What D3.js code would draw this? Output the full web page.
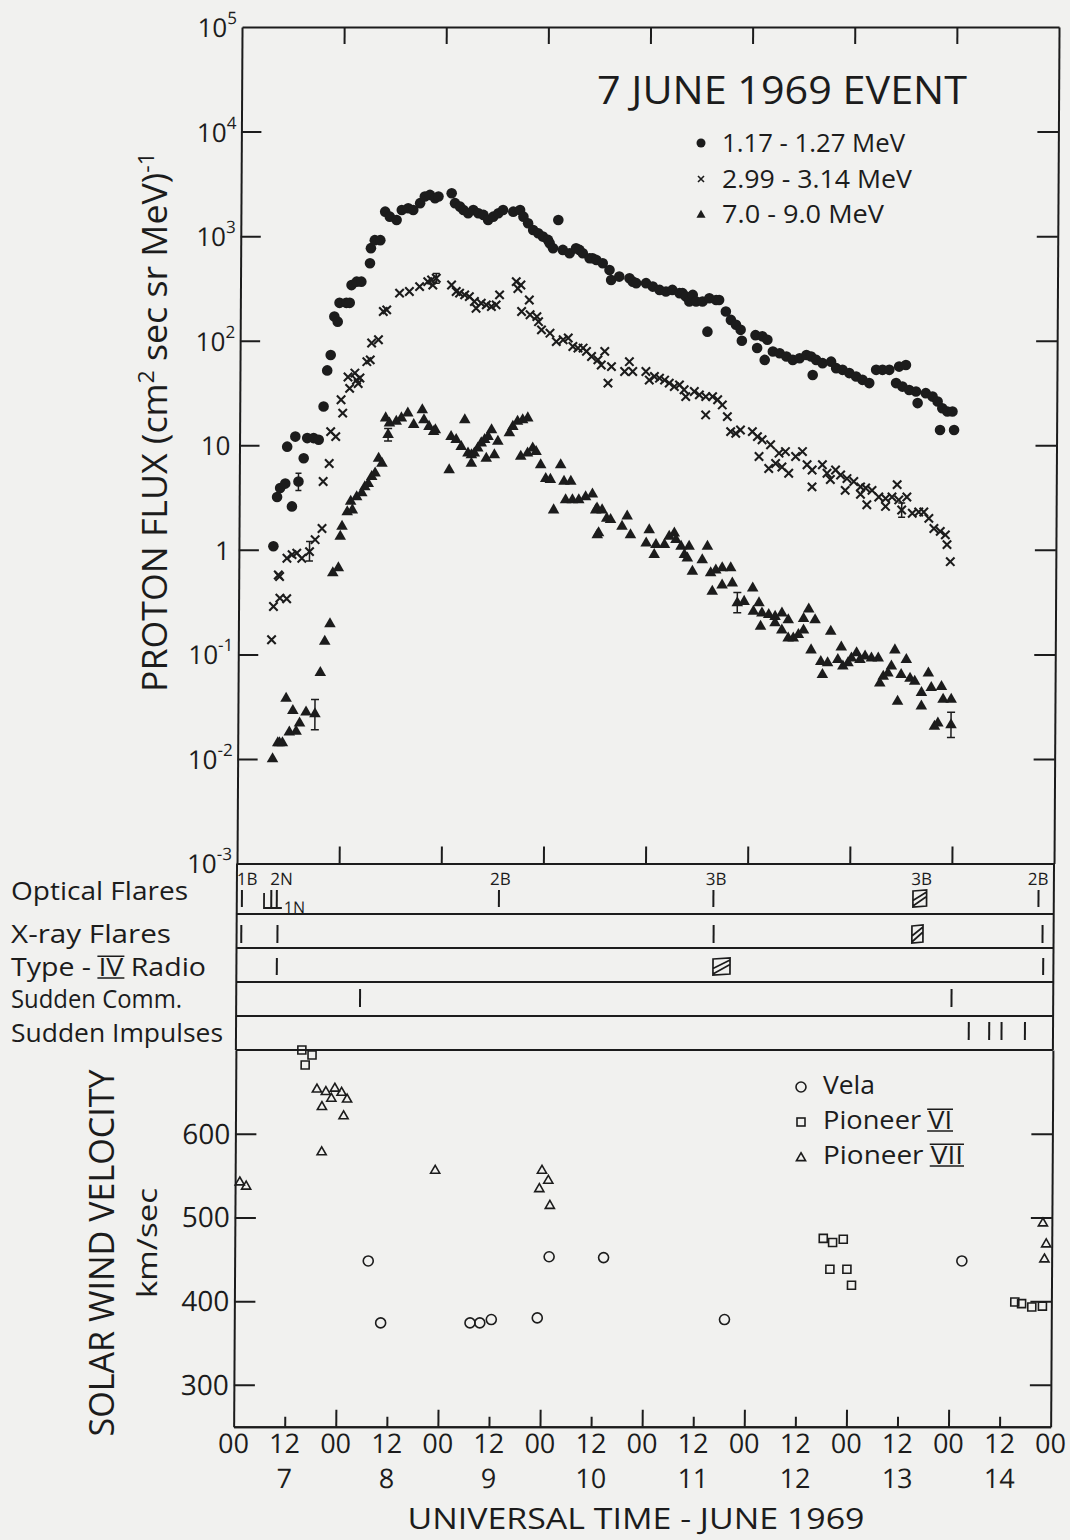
<!DOCTYPE html>
<html><head><meta charset="utf-8">
<script src="https://cdn.jsdelivr.net/npm/d3@7"></script>
<style>
html,body{margin:0;padding:0;background:#f1f1ef;}
svg{display:block;}
text{font-family:'Open Sans','DejaVu Sans',sans-serif;fill:#1c1c1c;}
</style></head><body>
<svg id="chart" width="1070" height="1540"></svg>
<script>
// ---- Proton flux, hours after 00 UT 7 June 1969 : flux (cm^2 sec sr MeV)^-1 ----
const flux117 = [[8.1,1.08],[8.9,3.2],[9.6,3.9],[10.8,4.3],[11.2,9.7],[12.4,2.6],[13.1,12.1],[13.9,4.5],[15.1,7.5],[15.9,11.7],[17.4,11.7],[18.6,11.3],[19.7,23.5],[20.5,52],[21.3,73],[22.1,170],[22.9,152],[23.3,230],[24.9,230],[25.7,230],[26.1,340],[27.3,367],[28.4,367],[30.4,550],[30.6,767],[31.5,915],[32.8,915],[33.9,1715],[35.0,1535],[36.6,1428],[37.8,1780],[39.3,1849],[40.5,1780],[42.1,2066],[43.2,2390],[44.4,2478],[45.6,2303],[46.4,2390],[49.5,2570],[50.3,2066],[51.5,1914],[52.3,1778],[53.4,1654],[54.6,1778],[55.8,1654],[57.0,1595],[58.1,1428],[59.3,1535],[60.5,1654],[61.6,1778],[64.0,1715],[65.6,1778],[66.4,1535],[67.5,1327],[68.7,1146],[69.9,1066],[71.0,990],[72.2,920],[72.6,855],[73.4,766],[74.6,1428],[75.7,738],[77.3,686],[78.8,766],[79.6,738],[80.4,686],[82.0,615],[82.7,615],[83.6,592],[85.1,551],[86.7,475],[87.1,380],[89.0,410],[91.4,396],[92.2,367],[93.0,355],[95.3,355],[96.9,329],[98.5,306],[100.0,295],[101.5,306],[103.2,285],[103.9,285],[104.7,264],[105.5,237],[106.3,274],[107.1,237],[108.6,237],[110.2,255],[111.8,245],[112.5,245],[109.8,122],[114.1,190],[115.3,158],[116.5,142],[117.6,127],[117.9,100],[121.1,113],[122.7,110],[123.9,102],[121.5,85],[123.3,65.5],[125.2,78.7],[126.8,75.9],[128.4,70.5],[129.9,65.5],[131.5,68],[133.1,73],[134.2,70.5],[135.4,65.5],[134.6,47],[136.9,61],[138.9,63],[140.1,54.6],[141.6,52.6],[143.2,49],[144.8,45.4],[146.3,42.2],[147.9,39.3],[149.5,52.6],[151.0,52.6],[152.6,52.6],[154.9,56.5],[156.5,58.6],[154.2,39.3],[155.7,36.4],[157.3,33.8],[158.9,32.7],[159.3,25.3],[161.2,31.5],[162.8,29.2],[164.0,26.2],[165.1,22.6],[166.3,21],[167.5,21],[164.6,14],[167.9,14]];

const flux299 = [[7.8,0.138],[8.2,0.287],[9.7,0.345],[11.3,0.34],[9.6,0.556],[9.3,0.575],[11.3,0.83],[12.5,0.9],[13.6,0.93],[14.8,0.83],[16.6,0.96],[17.9,1.25],[19.5,1.6],[19.7,4.5],[21.1,6.7],[21.4,13.5],[22.6,12.1],[24.2,20.3],[23.8,27.2],[25.8,35],[27.4,42],[27.8,39],[25.4,45],[27.0,49],[28.2,44],[29.8,63],[30.6,65.5],[30.9,95],[32.5,102],[33.6,190],[34.4,197],[37.4,285],[39.7,295],[42.1,329],[44.0,367],[46.0,395],[44.9,380],[45.2,340],[49.6,341],[50.7,295],[51.5,285],[52.7,274],[53.8,264],[55.0,237],[55.4,204],[56.6,228],[57.8,220],[59.0,212],[60.1,220],[60.9,274],[64.8,367],[65.9,341],[65.2,316],[67.9,245],[66.1,190],[68.1,177],[69.7,170],[70.1,152],[70.8,127],[72.8,118],[74.3,98],[75.9,102],[77.1,106],[78.2,88],[79.4,85],[80.6,85],[81.4,79],[82.6,70.5],[84.1,65.5],[84.9,58.6],[85.7,79],[87.3,56.5],[86.5,39.3],[90.4,50.7],[91.5,63],[92.3,50.7],[95.4,50.7],[96.2,42],[97.4,45.4],[98.6,43.8],[99.8,42],[100.9,39.3],[102.1,36.4],[103.3,37.8],[104.4,33.9],[104.8,29.2],[106.8,32.7],[108.0,30.3],[109.5,29.2],[111.1,29.2],[112.3,27.2],[113.4,24.3],[109.5,19.5],[114.6,18.8],[115.4,13.5],[116.6,13],[117.7,14],[120.5,13.5],[121.7,12.1],[122.8,11.3],[124.8,10.1],[126.8,8.4],[128.3,8.7],[130.7,7.8],[132.3,8.7],[133.4,6.5],[134.6,5.8],[137.0,6.5],[138.1,5.4],[140.1,5.8],[141.3,5.2],[142.8,4.8],[144.4,4.5],[146.0,4.0],[147.2,3.9],[148.7,3.7],[150.3,3.2],[151.9,3.1],[153.4,3.2],[155.0,3.0],[154.6,4.2],[156.9,3.2],[155.7,2.4],[158.2,2.24],[159.7,2.3],[160.9,2.3],[162.1,2.0],[163.3,1.6],[164.8,1.5],[166.0,1.39],[166.4,1.12],[167.2,0.77],[122.1,7.8],[124.4,6.0],[126.0,6.7],[127.5,6.2],[129.1,5.4],[134.6,4.0],[138.9,4.7],[142.4,3.7],[146.0,3.4],[147.5,2.7],[151.9,2.6]];

const flux70 = [[8.2,0.0100],[9.4,0.0142],[9.8,0.0142],[10.5,0.0142],[11.3,0.038],[12.1,0.018],[12.9,0.029],[13.7,0.0183],[14.5,0.022],[16.0,0.028],[18.1,0.027],[19.3,0.067],[20.3,0.133],[21.5,0.196],[22.1,0.6],[23.4,0.67],[23.8,1.34],[24.2,1.67],[25.4,2.3],[26.6,2.4],[26.2,2.9],[27.6,3.2],[28.8,3.5],[29.5,4.0],[30.3,4.3],[31.1,5.0],[31.9,5.4],[32.7,7.5],[33.5,6.7],[34.3,18.2],[34.9,12.6],[35.2,16.3],[36.8,16.9],[38.0,18.2],[39.5,20.3],[40.9,15.7],[42.9,21.8],[43.3,17.5],[44.5,15.1],[45.6,13.5],[46.0,14],[49.3,5.8],[49.7,12.1],[50.9,11.3],[52.1,9.7],[52.9,17.5],[53.7,8.4],[54.5,8.1],[55.2,8.4],[54.5,6.7],[56.0,9.4],[56.8,10.5],[57.6,11.3],[58.4,12.1],[59.2,14],[58.0,7.5],[59.9,8.1],[60.7,10.9],[63.4,13.1],[64.2,15.1],[65.3,16.9],[66.5,17.5],[67.7,18.2],[66.1,7.8],[67.7,8.4],[68.9,9.4],[69.7,8.7],[70.8,6.5],[72.0,4.8],[73.1,4.7],[73.9,2.4],[75.5,6.5],[76.3,4.5],[77.9,4.5],[76.7,3.0],[78.3,3.0],[79.8,3.0],[81.4,3.2],[83.0,3.4],[83.8,2.4],[84.2,1.39],[84.1,2.5],[85.3,2.4],[86.4,2.0],[87.3,1.94],[84.5,1.45],[91.2,2.1],[90.0,1.67],[92.0,1.39],[96.4,1.55],[95.7,1.16],[98.0,1.12],[97.6,0.9],[100.0,1.12],[101.1,1.34],[102.3,1.44],[102.7,1.25],[103.9,1.08],[104.7,0.9],[105.8,1.08],[105.4,0.83],[106.6,0.62],[108.9,0.8],[110.1,1.08],[110.9,0.6],[112.1,0.64],[113.6,0.67],[115.6,0.67],[111.3,0.40],[113.6,0.46],[116.0,0.48],[117.2,0.31],[118.8,0.32],[120.8,0.43],[122.3,0.31],[121.0,0.257],[123.0,0.248],[124.6,0.24],[126.1,0.23],[127.7,0.248],[122.7,0.185],[126.1,0.2],[127.7,0.17],[129.2,0.143],[130.4,0.143],[131.6,0.154],[132.8,0.17],[129.2,0.214],[132.8,0.22],[134.0,0.27],[135.5,0.214],[134.6,0.11],[136.9,0.085],[138.5,0.083],[137.3,0.064],[139.2,0.166],[140.9,0.089],[142.1,0.077],[141.7,0.117],[143.3,0.083],[144.1,0.092],[145.3,0.103],[146.1,0.089],[147.3,0.096],[148.8,0.092],[150.4,0.092],[150.8,0.053],[151.6,0.0615],[152.7,0.066],[153.5,0.077],[154.3,0.11],[155.8,0.064],[157.0,0.089],[155.0,0.0355],[157.9,0.059],[159.0,0.055],[160.6,0.043],[160.6,0.032],[162.2,0.066],[162.9,0.048],[165.3,0.049],[165.7,0.037],[167.6,0.037],[163.7,0.0205],[164.5,0.022],[167.6,0.0212]];

// representative error bars: [hour, low, high]
const err117 = [[13.9,3.7,5.4]];
const err299 = [[16.6,0.78,1.2],[46.0,355,440],[155.7,2.05,2.8]];
const err70  = [[18.1,0.019,0.037],[34.9,11,14.5],[117.2,0.25,0.39],[167.6,0.016,0.028]];

const fluxTicks = [1e-3,1e-2,1e-1,1,10,1e2,1e3,1e4,1e5];

// ---- Solar / geophysical events (hours after 00 UT 7 June) ----
const opticalFlareHours = [1.2, 8.1, 9.4, 61.6, 112.0, 188.4];
const opticalFlareLabels = [[2.4,"1B"],[10.5,"2N"],[61.9,"2B"],[112.6,"3B"],[160.9,"3B"],[188.3,"2B"]];
const opticalFlareSpans = [[158.9,162.1]];
const minorFlare1N = [6.4, 10.6];
const xrayFlareHours = [1.1, 9.6, 112.1, 189.4];
const xrayFlareSpans = [[158.7,161.3]];
const typeIVHours = [9.5, 189.6];
const typeIVSpans = [[112.0,116.0]];
const suddenCommHours = [29.1, 168.1];
const suddenImpulseHours = [172.2, 177.0, 179.9, 185.4];
const eventRows = ["Optical Flares","X-ray Flares","Type - IV Radio","Sudden Comm.","Sudden Impulses"];

// ---- Solar wind velocity (km/sec) ----
const vela = [[31.4,448],[34.4,374],[55.4,374],[57.7,374],[60.4,378],[71.2,380],[73.9,453],[86.7,452],[115.2,378],[170.9,448]];
const pioneer6 = [[15.5,700],[17.9,694],[16.3,682],[138.3,475],[140.5,470],[143.0,474],[139.9,438],[143.9,438],[145.0,419],[183.4,399],[185.0,397],[187.4,393],[189.9,394]];
const pioneer7 = [[1.1,542],[2.6,537],[19.1,653],[21.2,650],[23.3,654],[24.9,649],[22.5,642],[26.2,641],[20.3,632],[25.4,621],[20.3,578],[47.0,556],[72.1,556],[73.6,544],[71.5,534],[74.0,514],[189.9,493],[190.7,468],[190.3,450]];
const velTicks = [300,400,500,600];

// ---- time axis ----
const timeLabels = ["00","12","00","12","00","12","00","12","00","12","00","12","00","12","00","12","00"];
const dayLabels = ["7","8","9","10","11","12","13","14"];

const ink = "#1c1c1c";
const svg = d3.select("#chart");
svg.append("rect").attr("width",1070).attr("height",1540).attr("fill","#f1f1ef");

// the whole frame leans slightly, as on the printed page
const g = svg.append("g").attr("transform","matrix(1 0 -0.006 1 0 0)");

const x = d3.scaleLinear().domain([0,192]).range([242.2,1059.2]);
const yF = d3.scaleLog().domain([1e-3,1e5]).range([863.5,27]);
const yV = d3.scaleLinear().domain([250,700]).range([1426.7,1050]);

const dayHours = d3.range(24,192,24);
const halfDayHours = d3.range(12,192,24);

function tickStyle(sel){
  sel.selectAll("path,line").attr("stroke",ink).attr("stroke-width",2);
  sel.selectAll("text").remove();
}

// ===== flux panel frame =====
g.append("g").attr("transform",`translate(${x(0)},0)`)
  .call(d3.axisLeft(yF).tickValues(fluxTicks.slice(1,-1)).tickSize(-20).tickSizeOuter(0).tickFormat(""))
  .call(tickStyle);
g.append("g").attr("transform",`translate(${x(192)},0)`)
  .call(d3.axisRight(yF).tickValues(fluxTicks.slice(1,-1)).tickSize(-21).tickSizeOuter(0).tickFormat(""))
  .call(tickStyle);
g.append("g").attr("transform",`translate(0,${yF(1e5)})`)
  .call(d3.axisTop(x).tickValues(dayHours).tickSize(-17).tickSizeOuter(0).tickFormat(""))
  .call(tickStyle);
g.append("g").attr("transform",`translate(0,${yF(1e-3)})`)
  .call(d3.axisBottom(x).tickValues(dayHours).tickSize(-17).tickSizeOuter(0).tickFormat(""))
  .call(tickStyle);

// decade labels
fluxTicks.forEach(v=>{
  const e = Math.round(Math.log10(v));
  const t = g.append("text").attr("text-anchor","end").attr("font-size",26)
    .attr("x", x(0) - (e===0||e===1 ? 9 : 5)).attr("y", yF(v) + 10);
  if (e===0) t.text("1");
  else if (e===1) t.text("10");
  else {
    t.append("tspan").text("10");
    t.append("tspan").attr("font-size",17).attr("dy",-13).text(e<0 ? "-"+(-e) : String(e));
  }
});

// error bars
function errBars(data, h){
  data.forEach(d=>{
    const xx = x(d[0]), y1 = yF(d[1]), y2 = yF(d[2]);
    g.append("path").attr("d",`M${xx},${y1}V${y2}M${xx-h},${y1}H${xx+h}M${xx-h},${y2}H${xx+h}`)
      .attr("stroke",ink).attr("stroke-width",1.5).attr("fill","none");
  });
}
errBars(err117,3); errBars(err299,3.5); errBars(err70,4);

// 1.17-1.27 MeV : filled dots
g.append("g").selectAll("circle").data(flux117).join("circle")
  .attr("cx",d=>x(d[0])).attr("cy",d=>yF(d[1])).attr("r",5.3).attr("fill",ink);

// 2.99-3.14 MeV : crosses
const crossPath = "M-4.2,-4.2L4.2,4.2M-4.2,4.2L4.2,-4.2";
g.append("g").selectAll("path").data(flux299).join("path")
  .attr("transform",d=>`translate(${x(d[0])},${yF(d[1])})`)
  .attr("d",crossPath).attr("stroke",ink).attr("stroke-width",2.1).attr("fill","none");

// 7.0-9.0 MeV : filled triangles
const triFilled = d3.symbol(d3.symbolTriangle, 58)();
g.append("g").selectAll("path").data(flux70).join("path")
  .attr("transform",d=>`translate(${x(d[0])},${yF(d[1])})`)
  .attr("d",triFilled).attr("fill",ink);

// ===== event panel =====
const rowLines = [914,948,982,1016];
rowLines.forEach(yy=>{
  g.append("line").attr("x1",x(0)).attr("x2",x(192)).attr("y1",yy).attr("y2",yy)
    .attr("stroke",ink).attr("stroke-width",2);
});
[0,192].forEach(h=>{
  g.append("line").attr("x1",x(h)).attr("x2",x(h)).attr("y1",yF(1e-3)).attr("y2",yV(700))
    .attr("stroke",ink).attr("stroke-width",2);
});
const rowTick = [[890,907],[925,943],[958,975],[989,1007],[1022,1040]];
function ticks(hours,row){
  hours.forEach(h=>{
    g.append("line").attr("x1",x(h)).attr("x2",x(h)).attr("y1",rowTick[row][0]).attr("y2",rowTick[row][1])
      .attr("stroke",ink).attr("stroke-width",2);
  });
}
function spans(list,row){
  list.forEach(s=>{
    const x1 = x(s[0]), x2 = x(s[1]), y1 = rowTick[row][0], y2 = rowTick[row][1];
    const mid = (y1+y2)/2;
    g.append("path")
      .attr("d",`M${x1},${y1+1}L${x2},${y1}L${x2},${y2-1}L${x1},${y2}Z M${x1},${mid+2}L${x2},${y1+2} M${x1},${y2-1}L${x2},${mid-2}`)
      .attr("stroke",ink).attr("stroke-width",1.7).attr("fill","none");
  });
}
ticks(opticalFlareHours,0); spans(opticalFlareSpans,0);
ticks(xrayFlareHours,1);    spans(xrayFlareSpans,1);
ticks(typeIVHours,2);       spans(typeIVSpans,2);
ticks(suddenCommHours,3);
ticks(suddenImpulseHours,4);
opticalFlareLabels.forEach(d=>{
  g.append("text").attr("x",x(d[0])).attr("y",885).attr("text-anchor","middle")
    .attr("font-size",17).text(d[1]);
});
// 1N flare with its leader
g.append("path")
  .attr("d",`M${x(minorFlare1N[0])},893V908H${x(minorFlare1N[1])}`)
  .attr("stroke",ink).attr("stroke-width",1.8).attr("fill","none");
g.append("text").attr("x",x(minorFlare1N[1])+2).attr("y",913).attr("font-size",16).text("1N");

// ===== solar wind panel =====
g.append("line").attr("x1",x(0)).attr("x2",x(192)).attr("y1",yV(700)).attr("y2",yV(700))
  .attr("stroke",ink).attr("stroke-width",2);
g.append("g").attr("transform",`translate(${x(0)},0)`)
  .call(d3.axisLeft(yV).tickValues(velTicks).tickSize(-21).tickSizeOuter(0).tickFormat(""))
  .call(tickStyle);
g.append("g").attr("transform",`translate(${x(192)},0)`)
  .call(d3.axisRight(yV).tickValues(velTicks).tickSize(-21).tickSizeOuter(0).tickFormat(""))
  .call(tickStyle);
g.append("g").attr("transform",`translate(0,${yV(250)})`)
  .call(d3.axisBottom(x).tickValues(dayHours).tickSize(-17).tickSizeOuter(0).tickFormat(""))
  .call(tickStyle);
g.append("g").attr("transform",`translate(0,${yV(250)})`)
  .call(d3.axisBottom(x).tickValues(halfDayHours).tickSize(-10).tickSizeOuter(0).tickFormat(""))
  .call(tickStyle);

velTicks.forEach(v=>{
  g.append("text").attr("x",x(0)-5).attr("y",yV(v)+10).attr("text-anchor","end")
    .attr("font-size",28).text(v);
});
timeLabels.forEach((s,i)=>{
  g.append("text").attr("x",x(i*12)).attr("y",1453).attr("text-anchor","middle")
    .attr("font-size",27).text(s);
});
dayLabels.forEach((s,i)=>{
  g.append("text").attr("x",x(12+24*i)).attr("y",1488).attr("text-anchor","middle")
    .attr("font-size",27).text(s);
});

const openStyle = sel => sel.attr("fill","none").attr("stroke",ink).attr("stroke-width",1.6);
g.append("g").selectAll("circle").data(vela).join("circle")
  .attr("cx",d=>x(d[0])).attr("cy",d=>yV(d[1])).attr("r",5).call(openStyle);
g.append("g").selectAll("rect").data(pioneer6).join("rect")
  .attr("x",d=>x(d[0])-4).attr("y",d=>yV(d[1])-4).attr("width",8).attr("height",8).call(openStyle);
const triOpen = d3.symbol(d3.symbolTriangle, 36)();
g.append("g").selectAll("path").data(pioneer7).join("path")
  .attr("transform",d=>`translate(${x(d[0])},${yV(d[1])})`).attr("d",triOpen).call(openStyle);

// ===== titles, legends and labels (page coordinates) =====
function txt(xx,yy,str,size,len,anchor){
  const t = svg.append("text").attr("x",xx).attr("y",yy).attr("font-size",size)
    .attr("text-anchor",anchor||"start").text(str);
  if (len) t.attr("textLength",len).attr("lengthAdjust","spacingAndGlyphs");
  return t;
}
// bars above and below a roman numeral inside a text element
function romanBars(t, from, to, size){
  const node = t.node();
  const s = node.getStartPositionOfChar(from), e = node.getEndPositionOfChar(to);
  const base = s.y, top = base - size*0.73 - 1.5, bot = base + 2;
  svg.append("path").attr("d",`M${s.x-1},${top}H${e.x+1}M${s.x-1},${bot}H${e.x+1}`)
    .attr("stroke",ink).attr("stroke-width",1.6);
}

txt(597,104,"7 JUNE 1969 EVENT",39,370);

svg.append("circle").attr("cx",701).attr("cy",143).attr("r",4.5).attr("fill",ink);
svg.append("path").attr("transform","translate(701,179)").attr("d","M-3,-3L3,3M-3,3L3,-3")
  .attr("stroke",ink).attr("stroke-width",1.6);
svg.append("path").attr("transform","translate(701,215)").attr("d",d3.symbol(d3.symbolTriangle,36)()).attr("fill",ink);
txt(722,152,"1.17 - 1.27 MeV",25,183);
txt(722,188,"2.99 - 3.14 MeV",25,190);
txt(722,223,"7.0 - 9.0 MeV",25,162);

// flux axis title
const ft = svg.append("text").attr("transform","translate(167,422) rotate(-90)")
  .attr("text-anchor","middle").attr("font-size",34)
  .attr("textLength",540).attr("lengthAdjust","spacingAndGlyphs");
ft.append("tspan").text("PROTON FLUX (cm");
ft.append("tspan").attr("font-size",22).attr("dy",-13).text("2");
ft.append("tspan").attr("dy",13).text(" sec sr MeV)");
ft.append("tspan").attr("font-size",22).attr("dy",-13).text("-1");

// event row labels
const rowBase = [900,943,976,1008,1042];
const rowLen = [177,160,195,171,212];
eventRows.forEach((s,i)=>{
  const t = txt(11,rowBase[i],s,25,rowLen[i]);
  if (i===2) romanBars(t, 7, 8, 25);
});

// solar wind legend
svg.append("circle").attr("cx",801).attr("cy",1087).attr("r",5).call(openStyle);
svg.append("rect").attr("x",797).attr("y",1118).attr("width",8).attr("height",8).call(openStyle);
svg.append("path").attr("transform","translate(801,1158)").attr("d",triOpen).call(openStyle);
txt(823,1094,"Vela",25,52);
const p6 = txt(823,1129,"Pioneer VI",25,129);
romanBars(p6, 8, 9, 25);
const p7 = txt(823,1164,"Pioneer VII",25,140);
romanBars(p7, 8, 10, 25);

svg.append("text").attr("transform","translate(114,1253) rotate(-90)").attr("text-anchor","middle")
  .attr("font-size",34).attr("textLength",367).attr("lengthAdjust","spacingAndGlyphs")
  .text("SOLAR WIND VELOCITY");
svg.append("text").attr("transform","translate(157,1243) rotate(-90)").attr("text-anchor","middle")
  .attr("font-size",28).attr("textLength",110).attr("lengthAdjust","spacingAndGlyphs")
  .text("km/sec");
txt(636,1529,"UNIVERSAL TIME - JUNE 1969",30,457,"middle");
</script></body></html>
